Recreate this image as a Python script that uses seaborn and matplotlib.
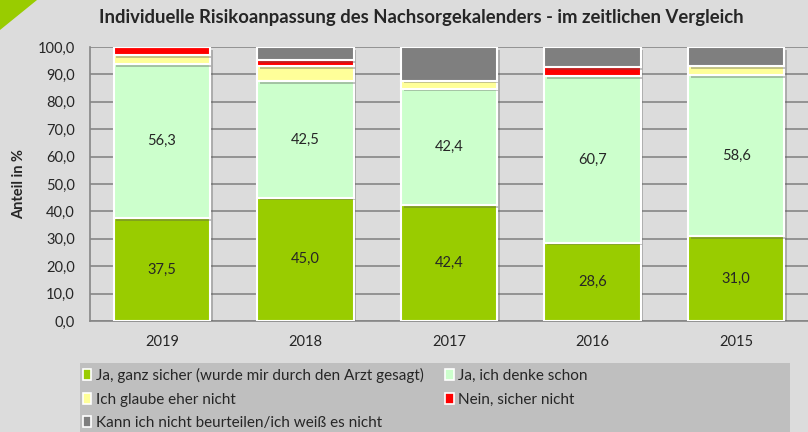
import numpy as np
import pandas as pd
import seaborn as sns
import matplotlib.pyplot as plt
import matplotlib.patheffects as pe
from matplotlib.patches import Polygon, Rectangle, Patch

years = ['2019', '2018', '2017', '2016', '2015']
ja_sicher = [37.5, 45.0, 42.4, 28.6, 31.0]
ja_denke = [56.3, 42.5, 42.4, 60.7, 58.6]
eher_nicht = [3.3, 5.6, 2.9, 0.0, 3.3]
nein = [2.9, 2.0, 0.0, 3.4, 0.0]
weiss_nicht = [0.0, 4.9, 12.3, 7.3, 7.1]

series = ['Ja, ganz sicher (wurde mir durch den Arzt gesagt)', 'Ja, ich denke schon',
          'Ich glaube eher nicht', 'Nein, sicher nicht',
          'Kann ich nicht beurteilen/ich weiß es nicht']
colors = ['#99cc00', '#ccffcc', '#ffff99', '#ff0000', '#7f7f7f']
values = [ja_sicher, ja_denke, eher_nicht, nein, weiss_nicht]

sns.set_style('white')
plt.rcParams['font.family'] = ['Lato', 'DejaVu Sans']

bg = '#dcdcdc'
fig = plt.figure(figsize=(8.08, 4.32), dpi=100, facecolor=bg)
ax = fig.add_axes([90/808, 1-321/432, 718/808, 274/432])
ax.set_facecolor(bg)

# green corner triangle
fig.patches.append(Polygon([[0, 1], [37/808, 1], [0, 1-30/432]], closed=True,
                           transform=fig.transFigure, facecolor='#99cc00', edgecolor='none'))

shadow = [pe.SimplePatchShadow(offset=(2, -2), shadow_rgbFace='#555555', alpha=0.35), pe.Normal()]
bottom = np.zeros(len(years))
for name, vals, c in zip(series, values, colors):
    df = pd.DataFrame({'Jahr': years, 'Anteil': vals})
    sns.barplot(data=df, x='Jahr', y='Anteil', bottom=bottom, color=c, width=0.67,
                edgecolor='white', linewidth=1.5, saturation=1, ax=ax)
    bottom = bottom + np.array(vals)

for p in ax.patches:
    p.set_path_effects(shadow)
    p.set_zorder(3)

# data labels for the two large segments
for i in range(len(years)):
    ax.text(i, ja_sicher[i] / 2, f'{ja_sicher[i]:.1f}'.replace('.', ','), ha='center', va='center',
            fontsize=10.5, zorder=5)
    ax.text(i, ja_sicher[i] + ja_denke[i] / 2, f'{ja_denke[i]:.1f}'.replace('.', ','),
            ha='center', va='center', fontsize=10.5, zorder=5)

ax.set_ylim(0, 100)
ax.set_xlim(-0.5, 4.5)
ax.set_yticks(np.arange(0, 101, 10))
ax.set_yticklabels([f'{v:.1f}'.replace('.', ',') for v in np.arange(0, 101, 10)], fontsize=10.5)
ax.yaxis.grid(True, color='#868686', linewidth=1.2, zorder=0)
ax.set_axisbelow(True)
ax.tick_params(axis='y', length=5, width=1.2, color='#868686', pad=6)
ax.tick_params(axis='x', length=0, labelsize=10.5, pad=10)
ax.set_xticks(np.arange(-0.5, 4.6, 1), minor=True)
ax.tick_params(axis='x', which='minor', length=5, width=1.2, color='#868686')
ax.set_xlabel('')
ax.set_ylabel('Anteil in %', fontsize=10.5, fontweight='bold', labelpad=8)
for s in ['top', 'right']:
    ax.spines[s].set_visible(False)
for s in ['left', 'bottom']:
    ax.spines[s].set_color('#868686')
    ax.spines[s].set_linewidth(1.2)

fig.text(421/808, 1-18/432, 'Individuelle Risikoanpassung des Nachsorgekalenders - im zeitlichen Vergleich',
         ha='center', va='center', fontsize=13.3, fontweight='bold')

# legend box
fig.patches.append(Rectangle((80/808, 0), 710/808, 69/432, transform=fig.transFigure,
                             facecolor='#bfbfbf', edgecolor='none'))
handles = [Patch(facecolor=c, edgecolor='white', linewidth=1.2, label=n) for n, c in zip(series, colors)]
order = [0, 2, 4, 1, 3]
fig.legend([handles[k] for k in order], [series[k] for k in order], ncol=2,
           loc='upper left', bbox_to_anchor=(83/808, 1-368/432), frameon=False,
           fontsize=11, handlelength=0.55, handleheight=0.7, handletextpad=0.3,
           labelspacing=0.62, columnspacing=1.4, borderaxespad=0, borderpad=0)

fig.savefig('out.png', dpi=100, facecolor=bg)
